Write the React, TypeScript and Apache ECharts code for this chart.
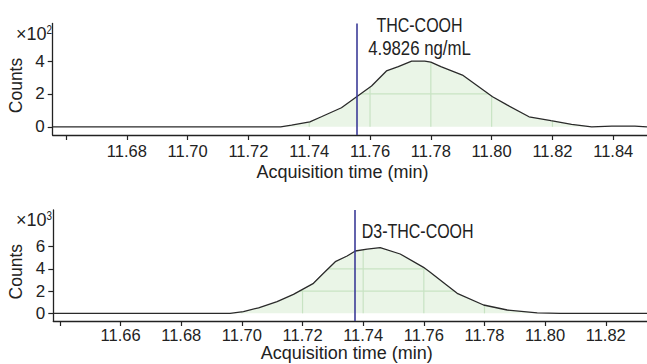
import React, { useEffect, useRef } from "react";
import * as echarts from "echarts";

// ---------- data ----------
const topTime = [11.6556, 11.7306, 11.7342, 11.7402, 11.744, 11.7506, 11.7556, 11.7605, 11.7654, 11.7693, 11.7737, 11.778, 11.78, 11.7833, 11.7904, 11.8003, 11.8052, 11.8123, 11.8195, 11.8263, 11.8329, 11.8395, 11.8471, 11.8511];
const topCounts = [0, 0, 0.1, 0.3, 0.61, 1.16, 1.83, 2.48, 3.4, 3.66, 4.0, 4.0, 3.94, 3.66, 3.15, 1.83, 1.32, 0.61, 0.37, 0.15, 0, 0.04, 0.04, 0];
const topFillRange = [11.7306, 11.8329];
const topRT = 11.7556;
const topXTicks = [11.66, 11.68, 11.7, 11.72, 11.74, 11.76, 11.78, 11.8, 11.82, 11.84];
const topXLabels = [11.68, 11.7, 11.72, 11.74, 11.76, 11.78, 11.8, 11.82, 11.84];
const topYTicks = [0, 2, 4];

const botTime = [11.6378, 11.6961, 11.7005, 11.7055, 11.7116, 11.717, 11.7236, 11.7269, 11.7308, 11.7347, 11.7374, 11.7413, 11.7456, 11.7522, 11.7599, 11.7621, 11.7677, 11.771, 11.7797, 11.7875, 11.7974, 11.805, 11.8336];
const botCounts = [0, 0, 0.15, 0.5, 1.05, 1.71, 2.7, 3.6, 4.65, 5.16, 5.61, 5.77, 5.91, 5.34, 4.14, 3.7, 2.5, 1.8, 0.75, 0.3, 0.05, 0, 0];
const botFillRange = [11.6961, 11.7974];
const botRT = 11.7373;
const botXTicks = [11.64, 11.66, 11.68, 11.7, 11.72, 11.74, 11.76, 11.78, 11.8, 11.82];
const botXLabels = [11.66, 11.68, 11.7, 11.72, 11.74, 11.76, 11.78, 11.8, 11.82];
const botYTicks = [0, 2, 4, 6];

// ---------- style ----------
const SANS = '"Liberation Sans", Arial, sans-serif';
const INK = "#222";
const FILL = "#eaf5e7";
const GRID = "#c8e3c3";
const RT_COLOR = "#3c3c98";
const NARROW_SCALE = 0.82;

function pairs(ts: number[], vs: number[]) {
  return ts.map((t, i) => [t, vs[i]]);
}
function inRange(ts: number[], vs: number[], r: number[]) {
  return pairs(ts, vs).filter((p) => p[0] >= r[0] && p[0] <= r[1]);
}
function interp(pts: number[][], t: number) {
  for (let i = 0; i < pts.length - 1; i++) {
    const a = pts[i], b = pts[i + 1];
    if (t >= a[0] && t <= b[0]) {
      const f = (t - a[0]) / (b[0] - a[0] || 1);
      return a[1] + f * (b[1] - a[1]);
    }
  }
  return 0;
}

function gridRenderer(pts: number[][], xTicks: number[], yTicks: number[]) {
  return (_params: any, api: any) => {
    const children: any[] = [];
    const t0 = pts[0][0], t1 = pts[pts.length - 1][0];
    xTicks.forEach((x) => {
      if (x <= t0 || x >= t1) return;
      const v = interp(pts, x);
      if (v < 0.05) return;
      const p0 = api.coord([x, 0]);
      const p1 = api.coord([x, v]);
      children.push({ type: "line", shape: { x1: p0[0], y1: p0[1], x2: p1[0], y2: p1[1] }, style: { stroke: GRID, lineWidth: 1.2 } });
    });
    yTicks.forEach((y) => {
      if (y <= 0) return;
      const xs: number[] = [];
      for (let i = 0; i < pts.length - 1; i++) {
        const a = pts[i], b = pts[i + 1];
        if ((a[1] - y) * (b[1] - y) < 0) {
          xs.push(a[0] + ((y - a[1]) / (b[1] - a[1])) * (b[0] - a[0]));
        }
      }
      if (xs.length < 2) return;
      const p0 = api.coord([xs[0], y]);
      const p1 = api.coord([xs[xs.length - 1], y]);
      children.push({ type: "line", shape: { x1: p0[0], y1: p0[1], x2: p1[0], y2: p1[1] }, style: { stroke: GRID, lineWidth: 1.2 } });
    });
    return { type: "group", children };
  };
}

function xAxis(gridIndex: number, min: number, max: number, ticks: number[], labels: number[], margin: number) {
  return {
    type: "value",
    gridIndex,
    min,
    max,
    axisLine: { show: true, onZero: false, lineStyle: { color: INK, width: 1.3 } },
    axisTick: { show: true, length: 5, customValues: ticks, lineStyle: { color: INK, width: 1.2 } },
    axisLabel: { customValues: labels, formatter: (v: number) => v.toFixed(2), color: INK, fontSize: 16.5, fontFamily: SANS, margin },
    splitLine: { show: false },
  };
}
function yAxis(gridIndex: number, min: number, max: number, ticks: number[]) {
  return {
    type: "value",
    gridIndex,
    min,
    max,
    axisLine: { show: true, onZero: false, lineStyle: { color: INK, width: 1.3 } },
    axisTick: { show: true, length: 5, customValues: ticks, lineStyle: { color: INK, width: 1.2 } },
    axisLabel: { customValues: ticks, color: INK, fontSize: 17, fontFamily: SANS, margin: 8 },
    splitLine: { show: false },
  };
}

function seriesFor(idx: number, ts: number[], vs: number[], fillRange: number[], xTicks: number[], yTicks: number[], rt: number) {
  const fillPts = inRange(ts, vs, fillRange);
  return [
    {
      type: "line",
      xAxisIndex: idx,
      yAxisIndex: idx,
      data: fillPts,
      symbol: "none",
      silent: true,
      lineStyle: { width: 0, opacity: 0 },
      areaStyle: { color: FILL, opacity: 1 },
      z: 1,
    },
    {
      type: "custom",
      xAxisIndex: idx,
      yAxisIndex: idx,
      data: [[fillPts[0][0], 0]],
      renderItem: gridRenderer(fillPts, xTicks, yTicks),
      silent: true,
      z: 2,
    },
    {
      type: "line",
      xAxisIndex: idx,
      yAxisIndex: idx,
      data: pairs(ts, vs),
      symbol: "none",
      lineStyle: { color: "#2a2a2a", width: 1.3 },
      z: 3,
      markLine: {
        silent: true,
        precision: 6,
        symbol: ["none", "none"],
        label: { show: false },
        lineStyle: { color: RT_COLOR, width: 1.6, type: "solid" },
        data: [{ xAxis: rt }],
      },
    },
  ];
}

function txt(text: string, x: number, y: number, size: number, align: string, opts: any = {}) {
  return {
    type: "text",
    x,
    y,
    rotation: opts.rotation || 0,
    scaleX: opts.scaleX || 1,
    silent: true,
    style: {
      text,
      font: `${size}px ${SANS}`,
      fill: INK,
      align,
      verticalAlign: "middle",
      textAlign: align,
      textVerticalAlign: "middle",
    },
  };
}

export default function App() {
  const ref = useRef<HTMLDivElement>(null);
  useEffect(() => {
    if (!ref.current) return;
    const chart = echarts.init(ref.current, null, { renderer: "svg" });
    const N = { scaleX: NARROW_SCALE };
    const option: any = {
      animation: false,
      backgroundColor: "#fff",
      grid: [
        { left: 52.7, right: 0, top: 23.5, height: 111.5, containLabel: false, outerBoundsMode: "none" },
        { left: 53.3, right: 0, top: 210, height: 111, containLabel: false, outerBoundsMode: "none" },
      ],
      xAxis: [
        xAxis(0, 11.65563, 11.8511, topXTicks, topXLabels, 7.5),
        xAxis(1, 11.6378, 11.8336, botXTicks, botXLabels, 5),
      ],
      yAxis: [yAxis(0, -0.5, 6.29, topYTicks), yAxis(1, -0.69, 9.3, botYTicks)],
      series: [
        ...seriesFor(0, topTime, topCounts, topFillRange, topXTicks, topYTicks, topRT),
        ...seriesFor(1, botTime, botCounts, botFillRange, botXTicks, botYTicks, botRT),
      ],
      graphic: [
        txt("Counts", 16, 85.5, 17.5, "center", { rotation: Math.PI / 2 }),
        txt("Counts", 16, 271.7, 17.5, "center", { rotation: Math.PI / 2 }),
        txt("×10", 46.5, 34, 18, "right"),
        txt("2", 46.5, 29.5, 12, "left", N),
        txt("×10", 46.5, 219.5, 18, "right"),
        txt("3", 46.5, 215.5, 12, "left", N),
        txt("Acquisition time (min)", 342.5, 171.5, 18, "center"),
        txt("Acquisition time (min)", 346.7, 353, 18, "center"),
        txt("THC-COOH", 419.5, 25, 19.5, "center", N),
        txt("4.9826 ng/mL", 419.5, 48, 20.5, "center", N),
        txt("D3-THC-COOH", 361.7, 231, 19.5, "left", N),
      ],
    };
    chart.setOption(option);
    return () => chart.dispose();
  }, []);
  return <div ref={ref} style={{ position: "absolute", left: 0, top: 0, width: 647, height: 364 }} />;
}
